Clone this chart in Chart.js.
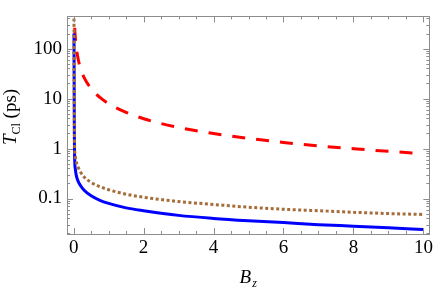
<!DOCTYPE html>
<html>
<head>
<meta charset="utf-8">
<script src="https://cdn.jsdelivr.net/npm/chart.js@4"></script>
<style>
  html, body { margin: 0; padding: 0; background: #fff; }
  #wrap { width: 436px; height: 290px; }
</style>
</head>
<body>
<div id="wrap"><canvas id="myChart"></canvas></div>
<script>
// B_z sample positions (shared by all curves)
const bz = [0.01, 0.02, 0.03, 0.05, 0.08, 0.13, 0.2, 0.3, 0.5, 0.75, 1, 1.5, 2, 3, 4, 5, 6, 7, 8, 9, 10];

// T_Cl (ps)
const solidBlue = [200, 2, 0.6, 0.38, 0.28, 0.22, 0.18, 0.146, 0.113, 0.092, 0.08, 0.065, 0.057, 0.046, 0.04, 0.036, 0.033, 0.03, 0.028, 0.026, 0.024];
const dashedRed = [790, 400, 260, 158, 99, 61, 39.5, 26.3, 15.8, 10.5, 7.9, 5.3, 3.95, 2.63, 2.0, 1.6, 1.32, 1.13, 0.99, 0.88, 0.79];
const dottedBrown = [400, 4, 1.0, 0.68, 0.53, 0.42, 0.335, 0.27, 0.21, 0.173, 0.15, 0.122, 0.106, 0.087, 0.076, 0.067, 0.061, 0.057, 0.053, 0.05, 0.048];

const xTicks = [0, 2, 4, 6, 8, 10];
const yTicks = [0.1, 1, 10, 100];

const pts = ys => bz.map((x, i) => ({ x: x, y: ys[i] }));
const serif = '"Liberation Serif", "DejaVu Serif", serif';
const frameColor = '#8c8c8c';

// frame with inward ticks on all four sides, plus axis titles with subscripts
const frameTicks = {
    id: 'frameTicks',
    afterDraw(chart) {
        const { ctx, chartArea: a, scales } = chart;
        const xs = scales.x, ys = scales.y;
        ctx.save();
        ctx.strokeStyle = frameColor;
        ctx.lineWidth = 1;
        ctx.strokeRect(Math.round(a.left) + 0.5, Math.round(a.top) + 0.5,
            Math.round(a.right - a.left), Math.round(a.bottom - a.top));
        ctx.beginPath();
        for (let v = 0; v <= 10; v += 0.5) {
            const px = Math.round(xs.getPixelForValue(v)) + 0.5;
            const len = (v % 2 === 0) ? 6 : 3;
            ctx.moveTo(px, a.bottom); ctx.lineTo(px, a.bottom - len);
            ctx.moveTo(px, a.top); ctx.lineTo(px, a.top + len);
        }
        for (let e = -2; e <= 2; e++) {
            for (let k = 1; k <= 9; k++) {
                const v = k * Math.pow(10, e);
                if (v < ys.min || v > ys.max) continue;
                const py = Math.round(ys.getPixelForValue(v)) + 0.5;
                const len = k === 1 ? 6 : 3;
                ctx.moveTo(a.left, py); ctx.lineTo(a.left + len, py);
                ctx.moveTo(a.right, py); ctx.lineTo(a.right - len, py);
            }
        }
        ctx.stroke();

        ctx.fillStyle = '#000';
        ctx.textBaseline = 'alphabetic';
        // x title: B_z
        const big = 'italic 19px ' + serif, small = 'italic 12px ' + serif;
        ctx.font = big; const wB = ctx.measureText('B').width;
        ctx.font = small; const wz = ctx.measureText('z').width;
        const cx = (a.left + a.right) / 2;
        let x0 = cx - (wB + wz + 1) / 2;
        ctx.font = big; ctx.fillText('B', x0, 283);
        ctx.font = small; ctx.fillText('z', x0 + wB + 1, 287);

        // y title: T_Cl (ps), rotated
        ctx.translate(16, 117);
        ctx.rotate(-Math.PI / 2);
        const fT = 'italic 19px ' + serif, fCl = '12px ' + serif, fPs = '19px ' + serif;
        ctx.font = fT; const wT = ctx.measureText('T').width;
        ctx.font = fCl; const wCl = ctx.measureText('Cl').width;
        ctx.font = fPs; const wPs = ctx.measureText(' (ps)').width;
        let y0 = -(wT + wCl + wPs) / 2;
        ctx.font = fT; ctx.fillText('T', y0, 0);
        ctx.font = fCl; ctx.fillText('Cl', y0 + wT, 4);
        ctx.font = fPs; ctx.fillText(' (ps)', y0 + wT + wCl, 0);
        ctx.restore();
    }
};

const ctx = document.getElementById('myChart').getContext('2d');
const myChart = new Chart(ctx, {
    type: 'line',
    data: {
        datasets: [{
            label: 'dotted',
            data: pts(dottedBrown),
            borderColor: '#a56d3a',
            borderWidth: 3,
            borderDash: [3, 2.5],
            order: 0
        }, {
            label: 'solid',
            data: pts(solidBlue),
            borderColor: '#0000ff',
            borderWidth: 3,
            order: 1
        }, {
            label: 'dashed',
            data: pts(dashedRed),
            borderColor: '#ff0000',
            borderWidth: 3,
            borderDash: [13, 11],
            order: 2
        }]
    },
    options: {
        responsive: true,
        maintainAspectRatio: false,
        animation: false,
        layout: { padding: { top: 10, right: 6, left: 0, bottom: 0 } },
        elements: {
            point: { radius: 0 },
            line: { tension: 0.35, cubicInterpolationMode: 'monotone', fill: false }
        },
        plugins: {
            legend: { display: false },
            tooltip: { enabled: false }
        },
        scales: {
            x: {
                type: 'linear',
                min: -0.19,
                max: 10.17,
                afterBuildTicks: s => { s.ticks = xTicks.map(v => ({ value: v })); },
                afterFit: s => { s.height = 56; },
                grid: { display: false, drawTicks: false },
                border: { display: false },
                ticks: {
                    padding: 3,
                    maxRotation: 0,
                    autoSkip: false,
                    color: '#000',
                    font: { family: serif, size: 19 },
                    callback: v => String(v)
                }
            },
            y: {
                type: 'logarithmic',
                min: 0.0195,
                max: 440,
                afterBuildTicks: s => { s.ticks = yTicks.map(v => ({ value: v })); },
                afterFit: s => { s.width = 67; },
                grid: { display: false, drawTicks: false },
                border: { display: false },
                ticks: {
                    padding: 5,
                    autoSkip: false,
                    color: '#000',
                    font: { family: serif, size: 19 },
                    callback: v => String(v)
                }
            }
        }
    },
    plugins: [frameTicks]
});
</script>
</body>
</html>
